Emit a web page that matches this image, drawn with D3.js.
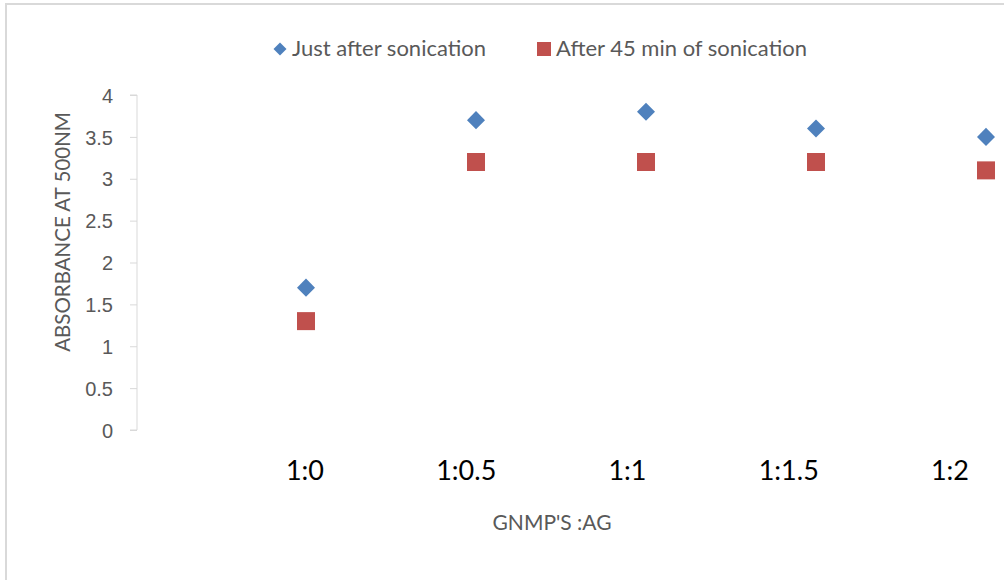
<!DOCTYPE html>
<html>
<head>
<meta charset="utf-8">
<script src="https://cdn.jsdelivr.net/npm/d3@7/dist/d3.min.js"></script>
<style>
  html, body { margin: 0; padding: 0; background: #fff; }
  svg { display: block; font-family: Lato, "Open Sans", sans-serif; }
  .y-axis text { fill: #595959; font-size: 20px; }
  .y-axis path, .y-axis line { stroke: #d9d9d9; }
</style>
</head>
<body>
<div id="chart"></div>
<script>
/* ── data ── */
var categories = ['1:0', '1:0.5', '1:1', '1:1.5', '1:2'];
var justAfter  = [1.7, 3.7, 3.8, 3.6, 3.5];
var after45    = [1.3, 3.2, 3.2, 3.2, 3.1];
var yTicks     = [0, 0.5, 1, 1.5, 2, 2.5, 3, 3.5, 4];
var seriesNames = ['Just after sonication', 'After 45 min of sonication'];

var W = 1004, H = 580;
var blue = '#4f81bd', red = '#c0504d';

var svg = d3.select('#chart').append('svg')
  .attr('width', W)
  .attr('height', H);

/* outer chart frame (right and bottom edges fall outside the picture) */
svg.append('rect')
  .attr('x', 6).attr('y', 4)
  .attr('width', W + 20).attr('height', H + 20)
  .attr('fill', 'none')
  .attr('stroke', '#d9d9d9')
  .attr('stroke-width', 2);

/* scales: points sit at x = 1..5 */
var x = d3.scaleLinear().domain([0, 5]).range([136, 986]);
var y = d3.scaleLinear().domain([0, 4]).range([430, 95]);
var labelX = d3.scalePoint().domain(categories).range([305, 950]);

/* y axis */
var yAxis = svg.append('g')
  .attr('class', 'y-axis')
  .attr('transform', 'translate(137,0)')
  .call(d3.axisLeft(y).tickValues(yTicks).tickSize(7).tickPadding(17)
    .tickFormat(function (d) { return d; }));
yAxis.select('.domain').attr('d', 'M-7,' + y(4) + 'H0V' + y(0) + 'H-7');
yAxis.selectAll('text').attr('dy', '0.36em');

/* category labels */
svg.selectAll('text.cat')
  .data(categories)
  .join('text')
  .attr('class', 'cat')
  .attr('x', function (d) { return labelX(d); })
  .attr('y', 480)
  .attr('text-anchor', 'middle')
  .attr('fill', '#000')
  .attr('font-size', 27)
  .text(function (d) { return d; });

/* axis titles */
svg.append('text')
  .attr('transform', 'translate(62,232) rotate(-90)')
  .attr('text-anchor', 'middle')
  .attr('dominant-baseline', 'central')
  .attr('fill', '#595959')
  .attr('font-size', 20.5)
  .text('ABSORBANCE AT 500NM');

svg.append('text')
  .attr('x', 552)
  .attr('y', 530)
  .attr('text-anchor', 'middle')
  .attr('fill', '#595959')
  .attr('font-size', 21)
  .text("GNMP'S :AG");

/* markers: diamond = square turned 45 degrees */
var diamond = d3.symbol().type(d3.symbolSquare).size(162);

svg.selectAll('path.s1')
  .data(justAfter)
  .join('path')
  .attr('class', 's1')
  .attr('d', diamond)
  .attr('transform', function (d, i) {
    return 'translate(' + x(i + 1) + ',' + y(d) + ') rotate(45)';
  })
  .attr('fill', blue);

svg.selectAll('rect.s2')
  .data(after45)
  .join('rect')
  .attr('class', 's2')
  .attr('x', function (d, i) { return x(i + 1) - 9; })
  .attr('y', function (d) { return y(d) - 9; })
  .attr('width', 18)
  .attr('height', 18)
  .attr('fill', red);

/* legend */
var legend = svg.append('g').attr('font-size', 22).attr('fill', '#595959');

legend.append('path')
  .attr('d', d3.symbol().type(d3.symbolSquare).size(85))
  .attr('transform', 'translate(280,49) rotate(45)')
  .attr('fill', blue);
legend.append('text')
  .attr('x', 292).attr('y', 56)
  .text(seriesNames[0]);

legend.append('rect')
  .attr('x', 537).attr('y', 42)
  .attr('width', 14).attr('height', 14)
  .attr('fill', red);
legend.append('text')
  .attr('x', 556).attr('y', 56)
  .text(seriesNames[1]);
</script>
</body>
</html>
